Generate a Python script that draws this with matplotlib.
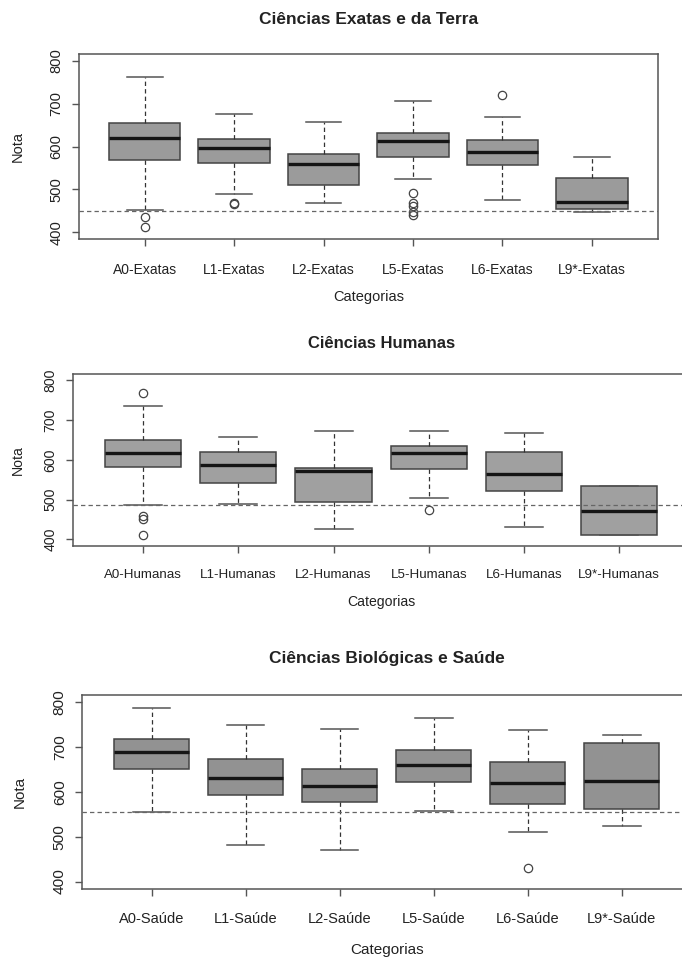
import matplotlib.pyplot as plt

plt.rcParams['font.family'] = ['Liberation Sans', 'DejaVu Sans']

# Notas por categoria -- Ciências Exatas e da Terra
exatas_names = ['A0-Exatas', 'L1-Exatas', 'L2-Exatas', 'L5-Exatas', 'L6-Exatas', 'L9*-Exatas']
exatas_hi = [762, 677, 658, 706, 668, 575]
exatas_q3 = [654, 617, 583, 631, 616, 526]
exatas_med = [619, 596, 559, 613, 586, 471]
exatas_q1 = [569, 562, 511, 576, 556, 455]
exatas_lo = [451, 488, 468, 523, 474, 446]
exatas_out = [[436, 412], [468, 465], [], [491, 467, 462, 448, 440], [721], []]
exatas_corte = 450

# Ciências Humanas
humanas_names = ['A0-Humanas', 'L1-Humanas', 'L2-Humanas', 'L5-Humanas', 'L6-Humanas', 'L9*-Humanas']
humanas_hi = [736, 658, 673, 672, 667, 533]
humanas_q3 = [650, 620, 580, 636, 619, 533]
humanas_med = [617, 586, 571, 618, 564, 471]
humanas_q1 = [582, 543, 494, 576, 521, 410]
humanas_lo = [486, 490, 425, 505, 432, 410]
humanas_out = [[768, 459, 450, 412], [], [], [474], [], []]
humanas_corte = 486

# Ciências Biológicas e Saúde
saude_names = ['A0-Saúde', 'L1-Saúde', 'L2-Saúde', 'L5-Saúde', 'L6-Saúde', 'L9*-Saúde']
saude_hi = [787, 750, 741, 764, 738, 727]
saude_q3 = [717, 673, 652, 694, 667, 710]
saude_med = [689, 631, 613, 660, 620, 624]
saude_q1 = [652, 593, 577, 623, 574, 562]
saude_lo = [555, 482, 471, 558, 511, 524]
saude_out = [[], [], [], [], [430], []]
saude_corte = 555

W, H = 682, 958
fig = plt.figure(figsize=(W / 100, H / 100), dpi=100)


def make_stats(names, lo, q1, med, q3, hi, out):
    stats = []
    for i in range(len(names)):
        stats.append({'label': names[i], 'whislo': lo[i], 'q1': q1[i], 'med': med[i],
                      'q3': q3[i], 'whishi': hi[i], 'fliers': out[i]})
    return stats


def panel(box, title, stats, corte, title_y, xlab_y, ylab_x, title_size=12.5, fs=10,
          fill='#9b9b9b'):
    left, right, top, bottom = box
    ax = fig.add_axes([left / W, 1 - bottom / H, (right - left) / W, (bottom - top) / H])
    ax.bxp(stats, positions=range(1, 7), widths=0.8, capwidths=0.4, patch_artist=True,
           boxprops=dict(facecolor=fill, edgecolor='#444444', linewidth=1.1),
           medianprops=dict(color='#151515', linewidth=2.4),
           whiskerprops=dict(color='#333333', linewidth=0.9, linestyle=(0, (3.5, 2.5))),
           capprops=dict(color='#555555', linewidth=1.1),
           flierprops=dict(marker='o', markersize=6, markerfacecolor='none',
                           markeredgecolor='#444444', markeredgewidth=0.9))
    ax.axhline(corte, color='#666666', linewidth=0.9, linestyle=(0, (3.5, 2.5)), zorder=3)
    ax.set_xlim(0.26, 6.74)
    ax.set_ylim(384, 816)
    ax.set_yticks([400, 500, 600, 700, 800])
    for s in ax.spines.values():
        s.set_color('#555555')
        s.set_linewidth(1.1)
    ax.tick_params(axis='both', colors='#555555', labelcolor='#222222', labelsize=fs,
                   length=5, width=1)
    ax.tick_params(axis='x', pad=12)
    ax.tick_params(axis='y', pad=6, labelrotation=90, labelsize=fs + 0.6)
    for lab in ax.get_yticklabels():
        lab.set_va('center')
    ax.set_ylabel('Nota', fontsize=fs + 0.5, color='#222222')
    ax.set_xlabel('Categorias', fontsize=fs + 0.5, color='#222222')
    ax.yaxis.set_label_coords((ylab_x - left) / (right - left), 0.5)
    ax.xaxis.set_label_coords(0.5, (bottom - xlab_y) / (bottom - top))
    ax.xaxis.label.set_va('center')
    ax.yaxis.label.set_va('center')
    cx = (left + right) / 2
    fig.text(cx / W, 1 - title_y / H, title, ha='center', va='center',
             fontsize=title_size, fontweight='bold', color='#222222')
    return ax


panel((78.5, 658, 54, 239), 'Ciências Exatas e da Terra',
      make_stats(exatas_names, exatas_lo, exatas_q1, exatas_med, exatas_q3, exatas_hi, exatas_out),
      exatas_corte, 20, 297, 18, fs=10)

panel((72.8, 689.5, 374, 545.7), 'Ciências Humanas',
      make_stats(humanas_names, humanas_lo, humanas_q1, humanas_med, humanas_q3, humanas_hi, humanas_out),
      humanas_corte, 343, 602, 18, title_size=12, fs=9.6, fill='#a0a0a0')

panel((82.1, 691.3, 695, 888.7), 'Ciências Biológicas e Saúde',
      make_stats(saude_names, saude_lo, saude_q1, saude_med, saude_q3, saude_hi, saude_out),
      saude_corte, 659, 950, 20, title_size=12.5, fs=10.5, fill='#929292')

fig.savefig('out.png', dpi=100)
